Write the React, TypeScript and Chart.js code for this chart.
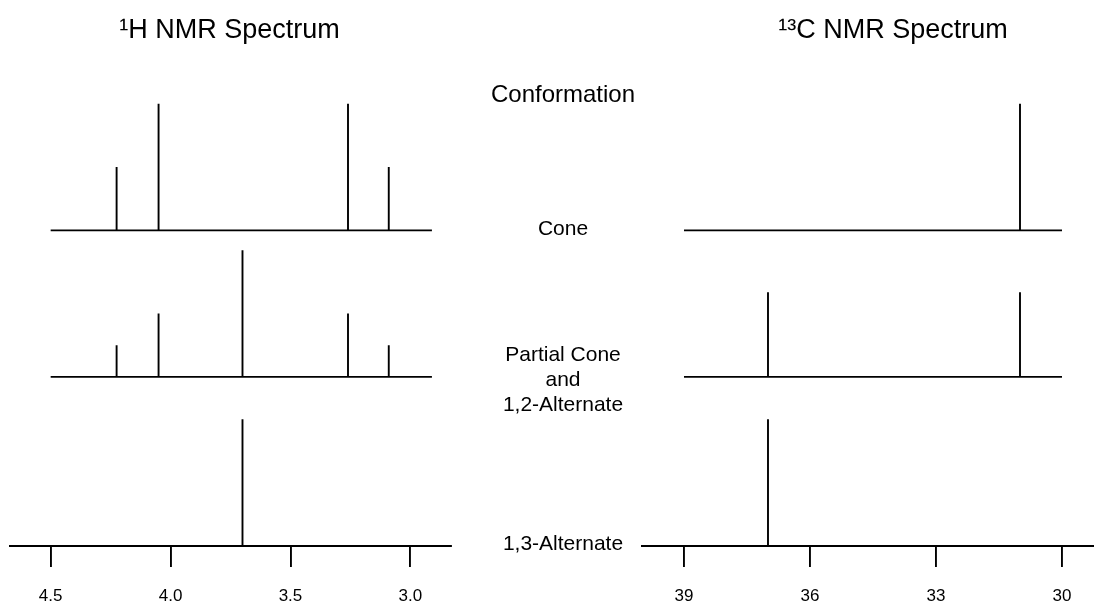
import React, { useEffect, useRef } from "react";
import { Chart, registerables } from "chart.js";

Chart.register(...registerables);

// ---- data ----
const hTicks = [4.5, 4.0, 3.5, 3.0];
const cTicks = [39, 36, 33, 30];

const hBaselineRange = [4.5, 2.91];
const cBaselineRange = [39, 30];

const hConeShifts = [4.225, 4.05, 3.26, 3.09];
const hConeHeights = [0.5, 1, 1, 0.5];
const hPartialShifts = [4.225, 4.05, 3.7, 3.26, 3.09];
const hPartialHeights = [0.25, 0.5, 1, 0.5, 0.25];
const hAltShifts = [3.7];
const hAltHeights = [1];

const cConeShifts = [31];
const cConeHeights = [1];
const cPartialShifts = [37, 31];
const cPartialHeights = [0.667, 0.667];
const cAltShifts = [37];
const cAltHeights = [1];

const conformationLabels = [["Cone"], ["Partial Cone", "and", "1,2-Alternate"], ["1,3-Alternate"]];
const headerLabel = "Conformation";
const hTitle = "\u00B9H NMR Spectrum";
const cTitle = "\u00B9\u00B3C NMR Spectrum";

// ---- layout constants ----
const W = 1094;
const H = 603;
const CANVAS_H = 626;
const rowBaselines = [2.49, 1.334, 0];
const FONT = '"Liberation Sans", Arial, Helvetica, sans-serif';
const LW = 1.9;

type Row = { shifts: number[]; heights: number[] };

function buildDatasets(rows: Row[], range: number[]) {
  const ds: any[] = [];
  rows.forEach((row, i) => {
    const base = rowBaselines[i];
    if (base > 0) {
      ds.push({
        data: [
          { x: range[0], y: base },
          { x: range[1], y: base },
        ],
      });
    }
    row.shifts.forEach((s, j) => {
      ds.push({
        data: [
          { x: s, y: base },
          { x: s, y: base + row.heights[j] },
        ],
      });
    });
  });
  return ds.map((d) => ({
    ...d,
    borderColor: "#000",
    borderWidth: LW,
    pointRadius: 0,
    tension: 0,
    fill: false,
    borderCapStyle: "butt",
  }));
}

function makeOptions(min: number, max: number, ticks: number[], padding: any) {
  return {
    responsive: false,
    animation: false,
    devicePixelRatio: 1,
    layout: { padding },
    plugins: {
      legend: { display: false },
      tooltip: { enabled: false },
      title: { display: false },
    },
    events: [],
    scales: {
      x: {
        type: "linear",
        min,
        max,
        reverse: true,
        afterBuildTicks: (scale: any) => {
          scale.ticks = ticks.map((v) => ({ value: v }));
        },
        grid: {
          display: true,
          drawOnChartArea: false,
          drawTicks: true,
          tickLength: 21,
          color: "#000",
          lineWidth: LW,
        },
        border: { display: true, color: "#000", width: LW },
        ticks: {
          color: "#000",
          padding: 21,
          autoSkip: false,
          maxRotation: 0,
          font: { family: FONT, size: 17, lineHeight: 1 },
          callback: (v: number) => (v > 10 ? String(v) : v.toFixed(1)),
        },
      },
      y: { type: "linear", display: false, min: 0, max: 4 },
    },
  };
}

const textPlugin = {
  id: "nmrText",
  afterDraw(chart: any) {
    const ctx = chart.ctx;
    ctx.save();
    ctx.fillStyle = "#000";
    ctx.textAlign = "center";
    ctx.textBaseline = "alphabetic";
    ctx.font = `27px ${FONT}`;
    ctx.fillText(hTitle, 229.5, 38);
    ctx.fillText(cTitle, 893, 38);
    ctx.font = `24px ${FONT}`;
    ctx.fillText(headerLabel, 563, 102);
    ctx.font = `21px ${FONT}`;
    ctx.textBaseline = "middle";
    const ys = [[229.5], [355, 380, 405], [544]];
    conformationLabels.forEach((lines, i) => {
      lines.forEach((t, j) => ctx.fillText(t, 563, ys[i][j]));
    });
    ctx.restore();
  },
};

export default function App() {
  const leftRef = useRef<HTMLCanvasElement>(null);
  const rightRef = useRef<HTMLCanvasElement>(null);

  useEffect(() => {
    document.body.style.margin = "0";
    const left = new Chart(leftRef.current as HTMLCanvasElement, {
      type: "line",
      data: {
        datasets: buildDatasets(
          [
            { shifts: hConeShifts, heights: hConeHeights },
            { shifts: hPartialShifts, heights: hPartialHeights },
            { shifts: hAltShifts, heights: hAltHeights },
          ],
          hBaselineRange
        ),
      },
      options: makeOptions(2.8317, 4.6696, hTicks, { left: 10, right: W - 450.7, top: 39, bottom: 0 }) as any,
      plugins: [textPlugin],
    });
    const right = new Chart(rightRef.current as HTMLCanvasElement, {
      type: "line",
      data: {
        datasets: buildDatasets(
          [
            { shifts: cConeShifts, heights: cConeHeights },
            { shifts: cPartialShifts, heights: cPartialHeights },
            { shifts: cAltShifts, heights: cAltHeights },
          ],
          cBaselineRange
        ),
      },
      options: makeOptions(29.238, 40.007, cTicks, { left: 641.7, right: 0, top: 39, bottom: 0 }) as any,
    });
    return () => {
      left.destroy();
      right.destroy();
    };
  }, []);

  const style: React.CSSProperties = { position: "absolute", left: 0, top: 0, width: W, height: CANVAS_H };
  return (
    <div style={{ position: "fixed", left: 0, top: 0, width: W, height: H, background: "#fff", overflow: "hidden" }}>
      <canvas ref={leftRef} width={W} height={CANVAS_H} style={style} />
      <canvas ref={rightRef} width={W} height={CANVAS_H} style={style} />
    </div>
  );
}
